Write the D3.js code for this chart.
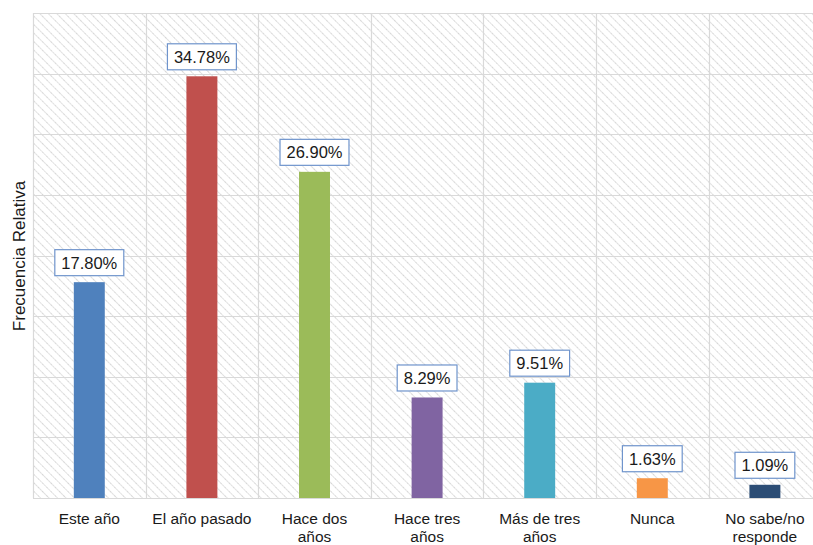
<!DOCTYPE html>
<html><head><meta charset="utf-8">
<script src="https://cdn.jsdelivr.net/npm/d3@7"></script>
<style>body{margin:0;background:#fff}svg{display:block;font-family:"Liberation Sans",Arial,sans-serif}</style>
</head><body><svg id="c" width="813" height="545"></svg>
<script>
const categories = [["Este año"],["El año pasado"],["Hace dos","años"],["Hace tres","años"],["Más de tres","años"],["Nunca"],["No sabe/no","responde"]];
const values = [17.80, 34.78, 26.90, 8.29, 9.51, 1.63, 1.09];
const colors = ["#4F81BD","#C0504D","#9BBB59","#8064A2","#4BACC6","#F79646","#2C4D75"];
const yTicks = [0,5,10,15,20,25,30,35,40];
const yTitle = "Frecuencia Relativa";

(function(){
const svg = d3.select("#c");
const mLeft = 33, mTop = 13, mBottom = 498, step = 112.6;
const mRight = mLeft + categories.length*step;
const keys = categories.map(c=>c.join(" "));
const x = d3.scaleBand().domain(keys).range([mLeft,mRight]).paddingInner(0.725).paddingOuter(0.3625);
const y = d3.scaleLinear().domain([0,40]).range([mBottom, mTop]);

const defs = svg.append("defs");
const pat = defs.append("pattern").attr("id","hatch").attr("patternUnits","userSpaceOnUse")
  .attr("width",6).attr("height",6).attr("patternTransform","rotate(-45)");
pat.append("line").attr("x1",0).attr("y1",0).attr("x2",0).attr("y2",6)
  .attr("stroke","#d6d6d6").attr("stroke-width",2).attr("stroke-dasharray","1.5,0.8");

svg.append("rect").attr("x",mLeft).attr("y",mTop).attr("width",mRight-mLeft).attr("height",mBottom-mTop).attr("fill","url(#hatch)");

svg.append("g").selectAll("line").data(yTicks).join("line")
  .attr("x1",mLeft).attr("x2",mRight).attr("y1",d=>Math.round(y(d))+0.5).attr("y2",d=>Math.round(y(d))+0.5)
  .attr("stroke","#d9d9d9").attr("stroke-width",1.2);
const vx = d3.range(categories.length+1).map(i=>mLeft + i*x.step());
svg.append("g").selectAll("line").data(vx).join("line")
  .attr("x1",d=>Math.round(d)+0.5).attr("x2",d=>Math.round(d)+0.5).attr("y1",mTop).attr("y2",mBottom)
  .attr("stroke","#d9d9d9").attr("stroke-width",1.2);

svg.append("g").selectAll("rect").data(values).join("rect")
  .attr("x",(d,i)=>x(keys[i])).attr("width",x.bandwidth())
  .attr("y",d=>y(d)).attr("height",d=>mBottom-y(d))
  .attr("fill",(d,i)=>colors[i]);

const lg = svg.append("g");
values.forEach((v,i)=>{
  const cx = x(keys[i]) + x.bandwidth()/2;
  const by = y(v) - 6.5;
  const g = lg.append("g");
  const r = g.append("rect");
  const t = g.append("text").attr("x",cx).attr("y",by-7).attr("text-anchor","middle")
    .attr("font-size",16.5).attr("fill","#1a1a1a").text(v.toFixed(2)+"%");
  const w = t.node().getComputedTextLength() + 13;
  r.attr("x",cx-w/2).attr("y",by-26).attr("width",w).attr("height",26)
    .attr("fill","#fff").attr("stroke","#6f94cc").attr("stroke-width",1.2);
});

const cg = svg.append("g");
categories.forEach((c,i)=>{
  const cx = x(keys[i]) + x.bandwidth()/2;
  const t = cg.append("text").attr("text-anchor","middle").attr("font-size",15.5).attr("fill","#1a1a1a");
  c.forEach((line,j)=>t.append("tspan").attr("x",cx).attr("y",524 + j*18).text(line));
});

svg.append("text").attr("transform","translate(25,256) rotate(-90)").attr("text-anchor","middle")
  .attr("font-size",17).attr("fill","#1a1a1a").text(yTitle);
})();
</script></body></html>
